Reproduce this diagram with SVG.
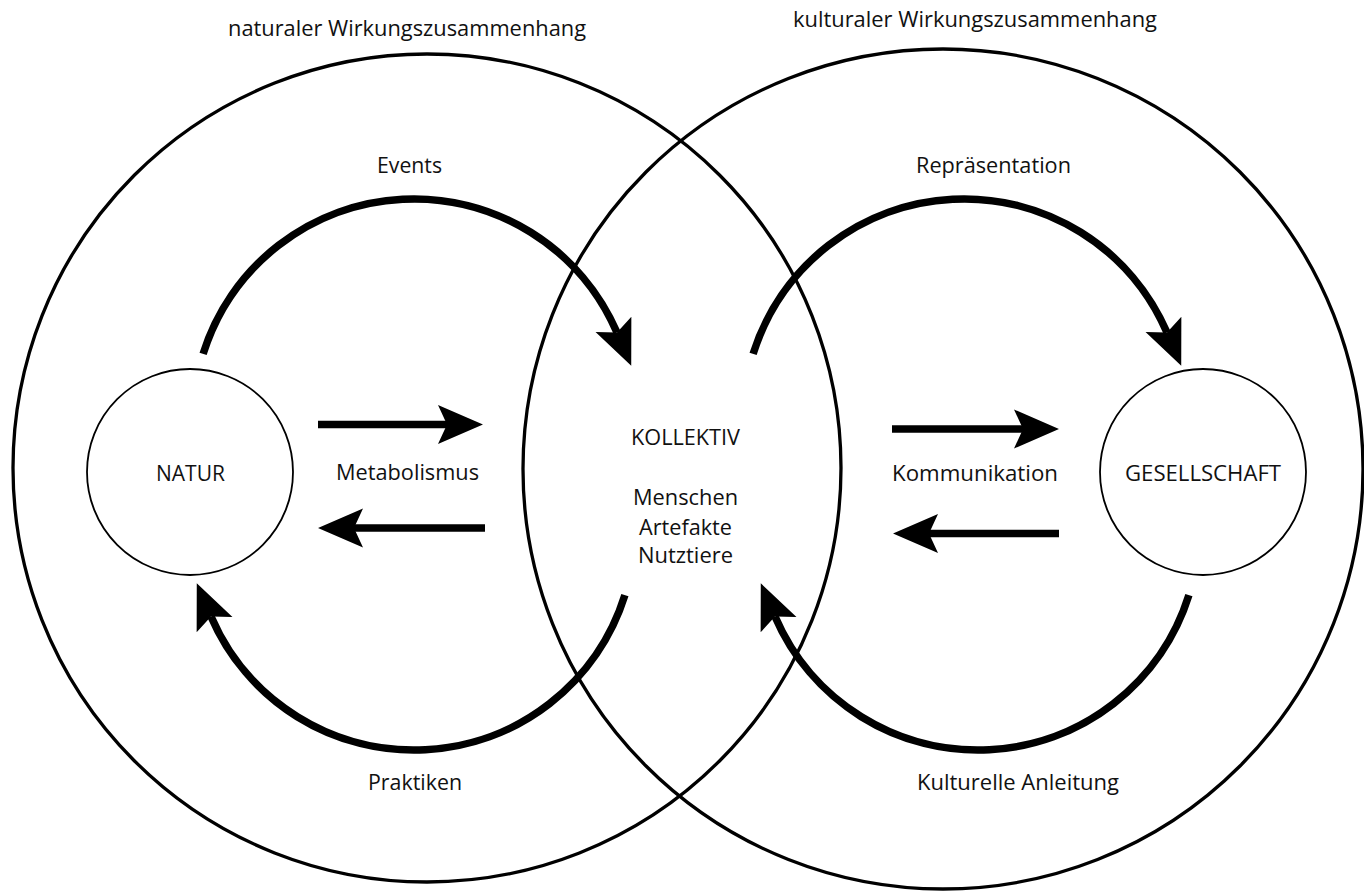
<svg xmlns="http://www.w3.org/2000/svg" width="1364" height="896" viewBox="0 0 1364 896">
  <style>
    .big { fill: none; stroke: #000; stroke-width: 3.3; }
    .small { fill: #fff; stroke: #000; stroke-width: 1.8; }
    .arr { fill: none; stroke: #000; stroke-width: 7.5; stroke-linecap: butt; marker-end: url(#head); }
    text { font-family: "Open Sans", "Noto Sans", "Liberation Sans", sans-serif; font-size: 22px; fill: #111; text-anchor: middle; }
  </style>
  <defs>
    <marker id="head" markerUnits="userSpaceOnUse" markerWidth="50" markerHeight="44" refX="9" refY="22" orient="auto" overflow="visible">
      <path d="M0,2.5 L45,22 L0,41.5 L9,22 Z" fill="#000"/>
    </marker>
  </defs>
  <rect width="1364" height="896" fill="#fff"/>

  <g id="region-natural">
    <circle class="big" cx="427" cy="468" r="414"/>
    <text x="407" y="36" textLength="358" lengthAdjust="spacingAndGlyphs">naturaler Wirkungszusammenhang</text>
  </g>
  <g id="region-cultural">
    <circle class="big" cx="943" cy="469" r="420"/>
    <text x="975" y="27" textLength="364" lengthAdjust="spacingAndGlyphs">kulturaler Wirkungszusammenhang</text>
  </g>

  <g id="connectors">
    <path id="events" class="arr" d="M203.1,353.9 A221,221 0 0 1 617,332.6"/>
    <path id="repraesentation" class="arr" d="M753.1,353.9 A221,221 0 0 1 1167,332.6"/>
    <path id="praktiken" class="arr" d="M624.9,595.1 A221,221 0 0 1 211,616.4"/>
    <path id="kulturelle-anleitung" class="arr" d="M1188.9,595.1 A221,221 0 0 1 775,616.4"/>
    <path id="metab-right" class="arr" d="M318,424.5 L447,424.5"/>
    <path id="metab-left" class="arr" d="M485,528 L354,528"/>
    <path id="komm-right" class="arr" d="M892,429 L1023,429"/>
    <path id="komm-left" class="arr" d="M1059,533.5 L929,533.5"/>
  </g>

  <g id="labels">
    <text x="409.5" y="173" textLength="65" lengthAdjust="spacingAndGlyphs">Events</text>
    <text x="993.5" y="173" textLength="155" lengthAdjust="spacingAndGlyphs">Repräsentation</text>
    <text x="407.5" y="480" textLength="143" lengthAdjust="spacingAndGlyphs">Metabolismus</text>
    <text x="975" y="481" textLength="166" lengthAdjust="spacingAndGlyphs">Kommunikation</text>
    <text x="415" y="790" textLength="94" lengthAdjust="spacingAndGlyphs">Praktiken</text>
    <text x="1018" y="790" textLength="202" lengthAdjust="spacingAndGlyphs">Kulturelle Anleitung</text>
  </g>

  <g id="natur">
    <circle class="small" cx="190" cy="472" r="103"/>
    <text x="190.5" y="481" textLength="69" lengthAdjust="spacingAndGlyphs">NATUR</text>
  </g>
  <g id="kollektiv">
    <text x="685.5" y="445" textLength="109" lengthAdjust="spacingAndGlyphs">KOLLEKTIV</text>
    <text x="685.5" y="505" textLength="105" lengthAdjust="spacingAndGlyphs">Menschen</text>
    <text x="685.5" y="535" textLength="93" lengthAdjust="spacingAndGlyphs">Artefakte</text>
    <text x="685.5" y="563" textLength="95" lengthAdjust="spacingAndGlyphs">Nutztiere</text>
  </g>
  <g id="gesellschaft">
    <circle class="small" cx="1203" cy="472" r="103"/>
    <text x="1203" y="481" textLength="156" lengthAdjust="spacingAndGlyphs">GESELLSCHAFT</text>
  </g>
</svg>
